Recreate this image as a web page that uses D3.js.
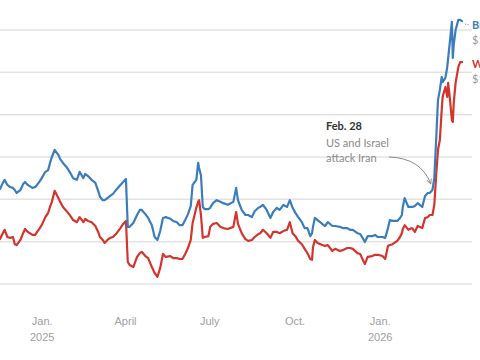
<!DOCTYPE html>
<html>
<head>
<meta charset="utf-8">
<script src="https://cdn.jsdelivr.net/npm/d3@7"></script>
<style>
  html, body { margin: 0; padding: 0; background: #fff; }
  svg { display: block; font-family: "Lato", "Roboto", sans-serif; }
</style>
</head>
<body>
<svg id="chart" width="480" height="360"></svg>
<script>
// ---- data ----
const dates = [
  "2024-11-17","2024-11-20","2024-11-22","2024-11-25","2024-11-28","2024-12-01","2024-12-03","2024-12-05","2024-12-09","2024-12-12",
  "2024-12-14","2024-12-17","2024-12-22","2024-12-25","2024-12-27","2024-12-30","2025-01-01","2025-01-05","2025-01-08","2025-01-10",
  "2025-01-12","2025-01-15","2025-01-19","2025-01-21","2025-01-24","2025-01-28","2025-02-01","2025-02-04","2025-02-08","2025-02-11",
  "2025-02-15","2025-02-17","2025-02-20","2025-02-24","2025-02-28","2025-03-03","2025-03-05","2025-03-08","2025-03-10","2025-03-13",
  "2025-03-16","2025-03-19","2025-03-23","2025-03-27","2025-03-30","2025-04-02","2025-04-04","2025-04-06","2025-04-10","2025-04-14",
  "2025-04-17","2025-04-19","2025-04-23","2025-04-26","2025-04-30","2025-05-03","2025-05-06","2025-05-09","2025-05-12","2025-05-15",
  "2025-05-20","2025-05-23","2025-05-27","2025-05-30","2025-06-02","2025-06-05","2025-06-08","2025-06-11","2025-06-13","2025-06-17",
  "2025-06-19","2025-06-20","2025-06-22","2025-06-24","2025-06-26","2025-06-30","2025-07-02","2025-07-05","2025-07-09","2025-07-13",
  "2025-07-16","2025-07-21","2025-07-27","2025-07-30","2025-08-01","2025-08-05","2025-08-09","2025-08-12","2025-08-16","2025-08-19",
  "2025-08-23","2025-08-25","2025-08-28","2025-09-01","2025-09-05","2025-09-08","2025-09-12","2025-09-15","2025-09-19","2025-09-23",
  "2025-09-26","2025-09-29","2025-10-02","2025-10-05","2025-10-09","2025-10-12","2025-10-15","2025-10-18","2025-10-20","2025-10-21",
  "2025-10-23","2025-10-26","2025-10-31","2025-11-03","2025-11-06","2025-11-11","2025-11-14","2025-11-19","2025-11-22","2025-11-27",
  "2025-11-30","2025-12-03","2025-12-08","2025-12-11","2025-12-13","2025-12-16","2025-12-19","2025-12-24","2025-12-27","2025-12-30",
  "2026-01-04","2026-01-07","2026-01-10","2026-01-12","2026-01-15","2026-01-20","2026-01-23","2026-01-25","2026-01-26","2026-01-28",
  "2026-02-01","2026-02-05","2026-02-08","2026-02-11","2026-02-16","2026-02-19","2026-02-22","2026-02-24","2026-02-27","2026-03-01",
  "2026-03-03","2026-03-05","2026-03-07","2026-03-09","2026-03-10","2026-03-13","2026-03-15","2026-03-16","2026-03-18","2026-03-20",
  "2026-03-21","2026-03-22","2026-03-24","2026-03-27","2026-03-29","2026-03-31"
];
const brent = [
  72.4,73.9,74.6,73.4,72.9,72.7,72.2,71.5,72.2,73.6,
  74.1,73.4,72.7,72.9,73.4,74.3,75.0,76.5,76.9,78.6,
  80.0,81.7,80.5,79.5,78.6,77.6,76.2,75.0,74.6,76.5,
  75.0,76.0,75.5,74.6,73.9,72.0,70.6,69.8,69.8,70.3,
  70.8,71.3,72.4,73.4,74.1,74.8,63.5,63.5,64.4,66.3,
  67.5,67.5,66.5,65.6,63.9,61.1,60.4,62.5,65.6,65.8,
  65.4,64.9,64.6,63.9,63.9,65.1,66.5,68.4,73.4,74.6,
  78.6,77.4,75.7,68.2,67.7,67.7,68.0,69.1,69.8,69.4,
  69.1,68.7,69.4,72.7,69.8,67.5,66.3,66.3,65.8,67.2,
  68.0,68.2,68.7,67.5,65.6,67.0,68.0,67.5,68.7,68.2,
  69.8,68.0,66.8,65.8,64.6,63.2,63.2,61.3,62.0,63.5,
  65.6,65.1,64.2,63.7,64.6,63.7,63.7,63.5,63.2,63.2,
  62.8,62.8,62.0,61.8,61.1,59.9,61.3,61.3,61.6,61.1,
  61.1,60.9,63.2,65.1,64.9,64.9,65.6,66.3,68.2,70.3,
  68.2,68.2,68.4,69.1,68.2,70.8,71.5,71.5,72.2,75.0,
  84.0,93.5,95.8,98.9,97.7,98.7,101.3,103.4,107.6,111.9,
  103.4,106.5,110.0,112.4,112.4,112.1
];
const wti = [
  60.6,62.0,62.8,61.1,60.9,61.1,59.4,59.2,60.4,62.0,
  63.0,62.3,61.6,61.6,62.3,63.2,63.9,65.8,66.8,68.2,
  69.4,72.0,70.3,69.4,68.2,67.2,66.1,65.1,64.6,65.8,
  64.6,65.4,64.9,64.6,63.7,62.3,61.1,60.4,59.7,60.4,
  60.9,61.1,62.0,63.2,64.2,64.9,55.2,54.5,54.0,56.4,
  57.3,57.6,56.6,56.1,54.0,52.6,51.7,53.8,57.1,56.4,
  56.6,56.1,56.1,55.9,55.9,57.1,58.5,60.4,64.4,68.0,
  69.4,69.8,66.3,60.9,61.1,61.3,63.5,64.2,64.4,63.5,
  63.2,63.0,63.5,67.0,64.2,62.0,60.6,60.2,60.4,61.1,
  61.8,62.0,62.8,62.0,60.9,62.3,62.3,62.0,62.5,62.8,
  64.6,62.0,61.3,60.2,59.4,58.3,57.3,55.9,55.7,58.7,
  60.4,59.7,59.2,59.0,59.2,57.8,58.3,57.8,58.0,58.5,
  58.5,58.3,57.3,57.1,56.1,54.7,56.4,56.6,56.9,56.9,
  56.6,55.9,59.0,59.2,59.4,60.2,61.1,62.0,63.0,63.9,
  62.8,63.2,62.3,63.7,63.2,65.6,65.8,66.3,66.3,68.7,
  75.7,81.7,84.0,91.1,94.2,96.5,94.2,97.5,93.5,88.7,
  88.3,92.8,97.5,101.3,102.4,102.4
];
const gridValues = [50, 60, 70, 80, 90, 100, 110];
const tickDates = ["2025-01-01", "2025-04-01", "2025-07-01", "2025-10-01", "2026-01-01"];
const tickLabels = [["Jan.", "2025"], ["April"], ["July"], ["Oct."], ["Jan.", "2026"]];
const seriesNames = ["Brent", "W.T.I."];
const seriesLastLabels = ["$112.12", "$102.41"];
const annotationLines = ["Feb. 28", "US and Israel", "attack Iran"];
const annotationDate = "2026-02-25";

// ---- setup ----
const parse = d3.utcParse("%Y-%m-%d");
const svg = d3.select("#chart");
const x = d3.scaleUtc().domain([parse("2024-11-17"), parse("2026-04-01")]).range([0, 463]);
const y = d3.scaleLinear().domain([50, 110]).range([284, 30]);

const colors = ["#3b7dbb", "#d3342c"];

// gridlines
svg.append("g").selectAll("line").data(gridValues).join("line")
  .attr("x1", 0).attr("x2", 472)
  .attr("y1", d => y(d)).attr("y2", d => y(d))
  .attr("stroke", "#e3e3e3").attr("stroke-width", 1.5);

// x axis
const xAxis = d3.axisBottom(x)
  .tickValues(tickDates.map(parse))
  .tickSize(0)
  .tickFormat("");
const ax = svg.append("g").attr("transform", `translate(0,${y(50)})`).call(xAxis);
ax.select(".domain").remove();
ax.selectAll(".tick text").each(function(d, i) {
  const t = d3.select(this);
  t.attr("y", null).attr("dy", null).text(null)
    .attr("fill", "#a0a0a0").attr("font-size", 11);
  tickLabels[i].forEach((l, j) => {
    t.append("tspan").attr("x", 0).attr("y", 41 + j * 16).text(l);
  });
});

// lines
const parsedDates = dates.map(parse);
const line = d3.line().x((d, i) => x(parsedDates[i])).y(d => y(d)).curve(d3.curveLinear);
[wti, brent].forEach((s, k) => {
  const c = k === 0 ? colors[1] : colors[0];
  svg.append("path").datum(s)
    .attr("fill", "none").attr("stroke", c).attr("stroke-width", 2.2)
    .attr("stroke-linejoin", "round").attr("stroke-linecap", "round")
    .attr("d", line);
});

// end labels
const series = [brent, wti];
const lastX = x(parsedDates[parsedDates.length - 1]);
const labelY = [29, 68];
series.forEach((s, k) => {
  const yl = labelY[k];
  if (k === 0) {
    svg.append("line").attr("x1", lastX + 3).attr("x2", lastX + 8)
      .attr("y1", y(s[s.length - 1]) + 3).attr("y2", yl - 4)
      .attr("stroke", colors[0]).attr("stroke-width", 1).attr("stroke-dasharray", "1,1.5");
  }
  svg.append("text").attr("x", 472).attr("y", yl)
    .attr("font-size", 11).attr("font-weight", "bold").attr("fill", colors[k])
    .text(seriesNames[k]);
  svg.append("text").attr("x", 472).attr("y", yl + 15)
    .attr("font-size", 11).attr("fill", "#9a9a9a")
    .text(seriesLastLabels[k]);
});

// annotation
const ann = svg.append("g");
annotationLines.forEach((l, i) => {
  ann.append("text").attr("x", 326).attr("y", 130 + (i === 0 ? 0 : 1 + i * 15.5))
    .attr("font-size", 11)
    .attr("font-weight", i === 0 ? "bold" : "normal")
    .attr("fill", i === 0 ? "#333" : "#8a8a8a")
    .text(l);
});
svg.append("defs").append("marker")
  .attr("id", "arr").attr("viewBox", "0 0 10 10").attr("refX", 8).attr("refY", 5)
  .attr("markerWidth", 6).attr("markerHeight", 6).attr("orient", "auto")
  .append("path").attr("d", "M1,1 L9,5 L1,9").attr("fill", "none").attr("stroke", "#888").attr("stroke-width", 1.5);
const ex = x(parse(annotationDate)), ey = y(73.8);
ann.append("path")
  .attr("d", `M${389},${157} Q${ex - 10},${158} ${ex},${ey}`)
  .attr("fill", "none").attr("stroke", "#8a8a8a").attr("stroke-width", 1)
  .attr("marker-end", "url(#arr)");
</script>
</body>
</html>
